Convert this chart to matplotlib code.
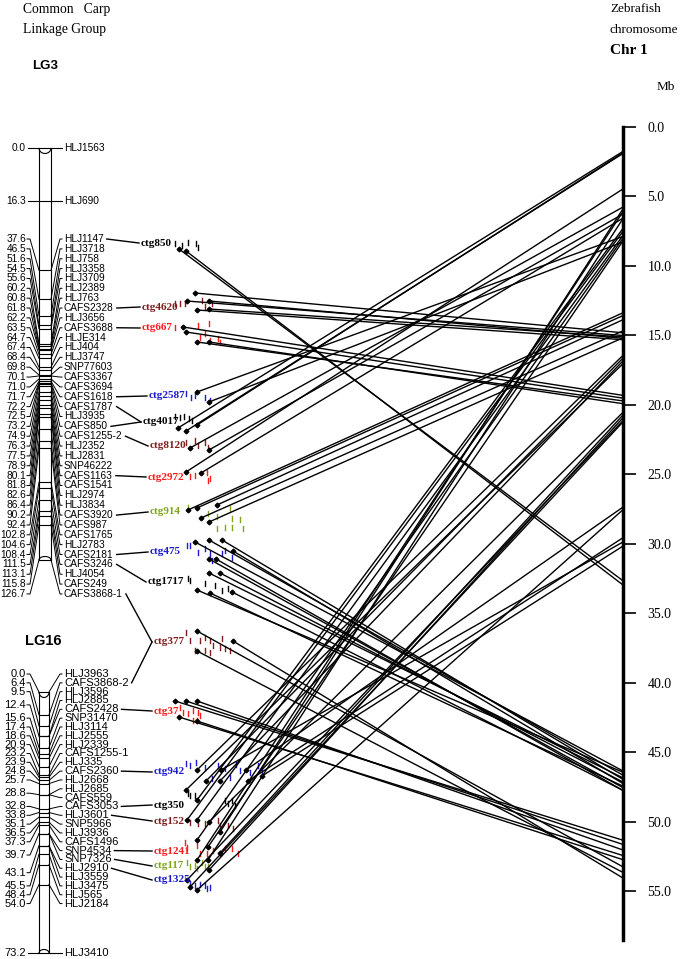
import matplotlib
matplotlib.use("Agg")
import matplotlib.pyplot as plt
from matplotlib.patches import Arc

plt.rcParams['font.family'] = ['Liberation Sans', 'DejaVu Sans']
SERIF = ['Liberation Serif', 'DejaVu Serif']

# ==========================
# DATA
# ==========================

# LG3 markers (cM)
LG3_SINGLE = ["HLJ1563", "HLJ690"]
LG3_SINGLE_CM = [0.0, 16.3]
LG3_NAMES = ["HLJ1147", "HLJ3718", "HLJ758", "HLJ3358", "HLJ3709", "HLJ2389", "HLJ763",
             "CAFS2328", "HLJ3656", "CAFS3688", "HLJE314", "HLJ404", "HLJ3747", "SNP77603",
             "CAFS3367", "CAFS3694", "CAFS1618", "CAFS1787", "HLJ3935", "CAFS850",
             "CAFS1255-2", "HLJ2352", "HLJ2831", "SNP46222", "CAFS1163", "CAFS1541",
             "HLJ2974", "HLJ3834", "CAFS3920", "CAFS987", "CAFS1765", "HLJ2783",
             "CAFS2181", "CAFS3246", "HLJ4054", "CAFS249", "CAFS3868-1"]
LG3_CM = [37.6, 46.5, 51.6, 54.5, 55.6, 60.2, 60.8, 61.8, 62.2, 63.5, 64.7, 67.4, 68.4,
          69.8, 70.1, 71.0, 71.7, 72.2, 72.5, 73.2, 74.9, 76.3, 77.5, 78.9, 80.1, 81.8,
          82.6, 86.4, 90.2, 92.4, 102.8, 104.6, 108.4, 111.5, 113.1, 115.8, 126.7]
LG3_LEN = 126.7

# LG16 markers (cM)
LG16_NAMES = ["HLJ3963", "CAFS3868-2", "HLJ3596", "HLJ2885", "CAFS2428", "SNP31470",
              "HLJ3114", "HLJ2555", "HLJ2339", "CAFS1255-1", "HLJ335", "CAFS2360",
              "HLJ2668", "HLJ2685", "CAFS559", "CAFS3053", "HLJ3601", "SNP5966",
              "HLJ3936", "CAFS1496", "SNP4534", "SNP7326", "HLJ2910", "HLJ3559",
              "HLJ3475", "HLJ565", "HLJ2184"]
LG16_CM = [0.0, 6.4, 9.5, 12.4, 12.4, 15.6, 17.4, 18.6, 20.9, 23.2, 23.9, 24.8, 25.7,
           28.8, 28.8, 32.8, 33.8, 35.1, 36.5, 37.3, 39.7, 39.7, 43.1, 43.1, 45.5,
           48.4, 54.0]
LG16_SINGLE = ["HLJ3410"]
LG16_SINGLE_CM = [73.2]
LG16_LEN = 73.2

# contigs: name, colour, anchoring marker(s), hit positions on zebrafish Chr 1 (Mb)
CONTIGS = ["ctg850", "ctg4620", "ctg667", "ctg2587", "ctg4017", "ctg8120", "ctg2972",
           "ctg914", "ctg475", "ctg1717", "ctg377", "ctg37", "ctg942", "ctg350",
           "ctg152", "ctg1241", "ctg117", "ctg1325"]
MAROON = "#7f1d1d"
RED = "#ff1a1a"
BLUE = "#1a1ad0"
GREEN = "#7fa61f"
CONTIG_COLORS = ["black", MAROON, RED, BLUE, "black", MAROON, RED, GREEN, BLUE, "black",
                 MAROON, RED, BLUE, "black", MAROON, RED, GREEN, BLUE]
CONTIG_ANCHORS = [["HLJ1147"], ["CAFS2328"], ["CAFS3688"], ["CAFS1618"],
                  ["CAFS1787", "CAFS850"], ["CAFS1255-2"], ["CAFS1163"], ["CAFS3920"],
                  ["CAFS2181"], ["CAFS3246"], ["CAFS3868-1", "CAFS3868-2"], ["CAFS2428"],
                  ["CAFS2360"], ["CAFS3053"], ["HLJ3601"], ["SNP4534"], ["SNP7326"],
                  ["HLJ2910"]]
CONTIG_HITS_MB = [
    [32.6, 32.9],
    [14.8, 15.0, 15.2, 15.3, 15.1],
    [19.3, 19.5, 19.7, 19.9],
    [7.9, 8.3],
    [1.8, 1.95, 1.9],
    [5.8, 6.3],
    [4.5, 6.6],
    [13.4, 13.6, 14.7, 15.2, 13.9],
    [46.3, 46.6, 46.9, 47.2, 47.5, 47.7],
    [46.4, 46.8, 47.1, 47.4, 47.7],
    [53.2, 53.6, 54.0],
    [51.3, 51.6, 52.0, 52.4, 52.7],
    [16.5, 16.7, 16.9, 17.1, 27.4, 29.6, 29.9, 30.2],
    [7.4],
    [7.6, 7.9, 20.6, 6.0],
    [8.1, 8.3, 20.8],
    [6.2, 6.7, 21.0],
    [21.2, 21.3, 27.6],
]
CHR_TICKS = [0, 5, 10, 15, 20, 25, 30, 35, 40, 45, 50, 55]
CHR_MAX = 58.5

# ==========================
# LAYOUT (pixels of the 686x959 canvas)
# ==========================
W, H = 686, 959
LG3_BAR = (39, 51, 148, 560)      # x0, x1, y(0 cM), y(end)
LG16_BAR = (39, 49, 692, 953)
LG3_FAN_Y0, LG3_FAN_STEP = 239, 9.86
LG16_FAN_Y0, LG16_FAN_STEP = 674, 8.83
CHR_X, CHR_Y0, CHR_Y1 = 623, 127, 940

CONTIG_LABEL_XY = [(141, 243), (142, 307), (142, 328), (149, 396), (143, 422), (150, 446),
                   (148, 477), (150, 512), (150, 552), (148, 582), (154, 642), (154, 711),
                   (154, 772), (154, 805), (154, 821), (154, 851), (154, 866), (154, 880)]
CONTIG_DOTS = [
    [(179, 249), (186, 251)],
    [(195, 293), (187, 301), (209, 301), (197, 310), (209, 309)],
    [(183, 327), (186, 332), (197, 342), (209, 342)],
    [(197, 392), (209, 402)],
    [(178, 428), (186, 431), (197, 425)],
    [(190, 448), (209, 450)],
    [(186, 472), (201, 473)],
    [(188, 510), (197, 508), (201, 518), (209, 522), (217, 505)],
    [(195, 542), (209, 540), (222, 540), (233, 551), (209, 559), (216, 559)],
    [(197, 590), (209, 573), (220, 573), (210, 593), (232, 592)],
    [(197, 631), (197, 651), (233, 641)],
    [(175, 701), (186, 701), (197, 701), (179, 717), (197, 721)],
    [(197, 770), (206, 781), (220, 781), (186, 790), (246, 770), (248, 781), (221, 770), (262, 776)],
    [(197, 800)],
    [(187, 820), (197, 820), (209, 822), (220, 832)],
    [(197, 840), (208, 847), (220, 853)],
    [(197, 860), (208, 860), (209, 870)],
    [(187, 880), (190, 887), (197, 890)],
]
CONTIG_TICKS = [
    [(175, 243), (182, 245), (188, 242), (196, 243), (198, 247)],
    [(175, 303), (180, 303), (185, 303), (202, 300), (212, 303), (205, 306)],
    [(175, 327), (198, 325), (209, 323), (205, 333), (200, 337), (210, 340), (218, 338), (220, 342)],
    [(186, 393), (191, 397), (195, 395), (205, 397), (210, 400)],
    [(175, 416), (180, 417), (184, 416), (189, 418), (192, 420)],
    [(186, 442), (195, 440), (198, 445), (205, 442), (208, 447)],
    [(190, 476), (195, 475), (207, 472), (210, 478), (208, 480)],
    [(188, 507), (208, 513), (217, 516), (217, 528), (225, 527), (232, 527), (232, 518), (240, 519), (243, 528), (230, 508)],
    [(187, 545), (190, 545), (198, 552), (205, 548), (210, 553), (222, 553), (225, 550), (232, 557), (212, 560)],
    [(188, 578), (190, 580), (205, 583), (215, 585), (222, 590), (228, 588)],
    [(186, 632), (190, 640), (200, 640), (205, 637), (210, 640), (213, 645), (220, 647), (222, 638), (225, 648), (230, 650), (210, 652), (205, 650), (195, 650)],
    [(180, 707), (183, 712), (188, 713), (193, 710), (198, 712), (200, 715), (197, 720), (193, 720)],
    [(186, 763), (190, 765), (196, 762), (205, 767), (218, 765), (225, 768), (236, 764), (240, 770), (250, 772), (258, 765), (262, 770), (212, 778), (230, 777)],
    [(188, 793), (190, 795), (195, 795), (225, 800), (228, 803), (232, 800), (235, 805)],
    [(190, 822), (198, 823), (205, 823), (218, 820), (220, 825), (228, 825), (233, 828)],
    [(185, 842), (187, 847), (197, 845), (200, 853), (207, 853), (213, 850), (220, 853), (225, 848), (232, 848), (238, 853)],
    [(187, 862), (190, 866), (195, 865), (197, 868), (202, 862), (205, 866), (208, 866)],
    [(190, 883), (195, 885), (200, 884), (205, 885), (207, 888), (210, 887)],
]


def box(x0, y0, x1, y1):
    return [x0 / W, 1 - y1 / H, (x1 - x0) / W, (y1 - y0) / H]


fig = plt.figure(figsize=(W / 100, H / 100), dpi=100)
ax = fig.add_axes([0, 0, 1, 1])
ax.set_xlim(0, W)
ax.set_ylim(H, 0)
ax.axis("off")

# scale axes for the two linkage groups (cM) and the zebrafish chromosome (Mb)
lg3_ax = fig.add_axes(box(0, LG3_BAR[2], W, LG3_BAR[3]))
lg3_ax.set_ylim(LG3_LEN, 0)
lg3_ax.axis("off")
lg16_ax = fig.add_axes(box(0, LG16_BAR[2], W, LG16_BAR[3]))
lg16_ax.set_ylim(LG16_LEN, 0)
lg16_ax.axis("off")

chr_ax = fig.add_axes(box(CHR_X - 20, CHR_Y0, CHR_X, CHR_Y1))
chr_ax.set_ylim(CHR_MAX, 0)
chr_ax.patch.set_visible(False)
for s in ["left", "top", "bottom"]:
    chr_ax.spines[s].set_visible(False)
chr_ax.spines["right"].set_linewidth(2.5)
chr_ax.set_xticks([])
chr_ax.yaxis.tick_right()
chr_ax.set_yticks(CHR_TICKS)
chr_ax.set_yticklabels([f"{t:.1f}" for t in CHR_TICKS], family=SERIF, fontsize=10)
chr_ax.tick_params(axis="y", direction="out", length=9.5, width=1.2, pad=8)


def to_layout_y(src, v):
    disp = src.transData.transform((0, v))
    return ax.transData.inverted().transform(disp)[1]


def draw_lg(src, bar, fan_names, fan_cm, fan_y0, fan_step, single_names, single_cm, fs):
    x0, x1, ytop, ybot = bar
    # bar outline with rounded ends
    ax.plot([x0, x0], [ytop, ybot], color="black", lw=0.8)
    ax.plot([x1, x1], [ytop, ybot], color="black", lw=0.8)
    ax.add_patch(Arc(((x0 + x1) / 2, ytop), x1 - x0, 11, theta1=0, theta2=180,
                     transform=ax.transData, lw=0.8, color="black"))
    ax.add_patch(Arc(((x0 + x1) / 2, ybot), x1 - x0, 7, theta1=180, theta2=360,
                     transform=ax.transData, lw=0.8, color="black"))
    label_end = {}
    # isolated markers: straight horizontal connector
    for nm, cm in zip(single_names, single_cm):
        y = to_layout_y(src, cm)
        ax.plot([28, 62], [y, y], color="black", lw=0.8)
        ax.text(26, y, f"{cm:.1f}", ha="right", va="center", fontsize=fs)
        t = ax.text(64, y, nm, ha="left", va="center", fontsize=fs)
        label_end[nm] = (t, y)
    # crowded markers: fanned labels
    ys = [fan_y0 + i * fan_step for i in range(len(fan_names))]
    seen = {}
    for nm, cm, ly in zip(fan_names, fan_cm, ys):
        my = to_layout_y(src, cm)
        ax.plot([x0, x1], [my, my], color="black", lw=0.8)
        ax.plot([x1, 60, 62], [my, ly, ly], color="black", lw=0.7)
        t = ax.text(64, ly, nm, ha="left", va="center", fontsize=fs)
        label_end[nm] = (t, ly)
        seen.setdefault(cm, []).append(ly)
    for cm, lys in seen.items():
        ly = sum(lys) / len(lys)
        my = to_layout_y(src, cm)
        ax.plot([27, 30, x0], [ly, ly, my], color="black", lw=0.7)
        ax.text(26, ly, f"{cm:.1f}", ha="right", va="center", fontsize=fs)
    return label_end


ends = {}
ends.update(draw_lg(lg3_ax, LG3_BAR, LG3_NAMES, LG3_CM, LG3_FAN_Y0, LG3_FAN_STEP,
                    LG3_SINGLE, LG3_SINGLE_CM, 7.3))
ends.update(draw_lg(lg16_ax, LG16_BAR, LG16_NAMES, LG16_CM, LG16_FAN_Y0, LG16_FAN_STEP,
                    LG16_SINGLE, LG16_SINGLE_CM, 8.0))

renderer = fig.canvas.get_renderer()
inv = ax.transData.inverted()

for i, name in enumerate(CONTIGS):
    col = CONTIG_COLORS[i]
    lx, lyc = CONTIG_LABEL_XY[i]
    ax.text(lx, lyc, name, ha="left", va="center", fontsize=8, fontweight="bold",
            family=SERIF, color=col)
    for a in CONTIG_ANCHORS[i]:
        t, ay = ends[a]
        bb = t.get_window_extent(renderer)
        xend = inv.transform((bb.x1, 0))[0]
        ax.plot([xend + 3, lx - 2], [ay, lyc], color="black", lw=1.0)
    for tx, ty in CONTIG_TICKS[i]:
        ax.plot([tx, tx], [ty - 2.5, ty + 2.5], color=col, lw=1.0)
    for (dx, dy), mb in zip(CONTIG_DOTS[i], CONTIG_HITS_MB[i]):
        ey = to_layout_y(chr_ax, mb)
        ax.plot([dx, CHR_X - 1], [dy, ey], color="black", lw=1.0)
        ax.plot(dx, dy, marker="D", ms=2.4, color="black")

# titles
ax.text(23, 9, "Common   Carp", family=SERIF, fontsize=9.8, va="center")
ax.text(23, 29, "Linkage Group", family=SERIF, fontsize=9.8, va="center")
ax.text(32, 66, "LG3", fontsize=9.5, fontweight="bold", va="center")
ax.text(25, 641, "LG16", fontsize=10.5, fontweight="bold", va="center")
ax.text(610, 9, "Zebrafish", family=SERIF, fontsize=9.5, va="center")
ax.text(610, 30, "chromosome", family=SERIF, fontsize=9.5, va="center")
ax.text(610, 51, "Chr 1", family=SERIF, fontsize=11, fontweight="bold", va="center")
ax.text(657, 87, "Mb", family=SERIF, fontsize=9.5, va="center")

fig.savefig("out.png", dpi=100)
